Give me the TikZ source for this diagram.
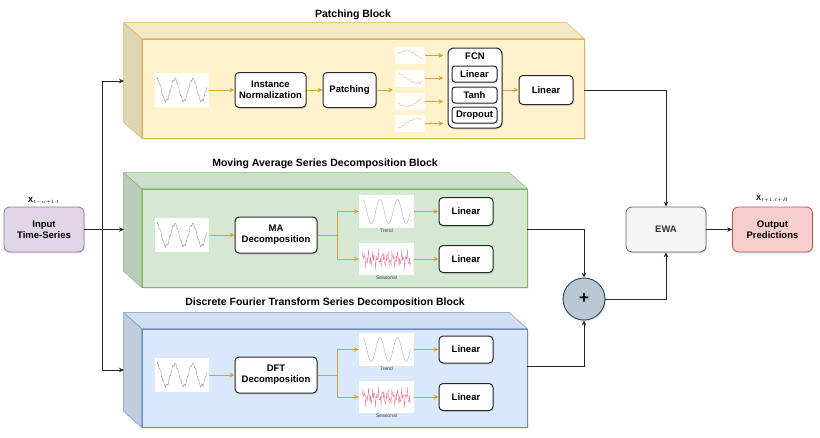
\documentclass[tikz,border=0pt]{standalone}
\usepackage{fontspec}
\setmainfont{Liberation Sans}
\usetikzlibrary{arrows.meta,positioning,calc,shadows}
\definecolor{patchFill}{HTML}{FFF2CC}
\definecolor{patchLine}{HTML}{D6B656}
\definecolor{maFill}{HTML}{D5E8D4}
\definecolor{maLine}{HTML}{82B366}
\definecolor{dftFill}{HTML}{DAE8FC}
\definecolor{dftLine}{HTML}{6C8EBF}
\definecolor{inFill}{HTML}{E1D5E7}
\definecolor{inLine}{HTML}{9673A6}
\definecolor{outFill}{HTML}{F8CECC}
\definecolor{outLine}{HTML}{B85450}
\definecolor{ewaFill}{HTML}{F5F5F5}
\definecolor{ewaLine}{HTML}{666666}
\definecolor{sumFill}{HTML}{BAC8D3}
\definecolor{sumLine}{HTML}{23445D}
\definecolor{flowGold}{HTML}{D8A23A}
\definecolor{seriesPurple}{HTML}{9C8AA8}
\definecolor{seasRed}{HTML}{E0607A}

% top and left faces of a block, drawn behind its front node
\newcommand{\blockfaces}[2]{%
  \filldraw[fill=#2Fill!96!black, draw=#2Line, line join=round]
    ($(#1.north west)+(-18,-16)$) -- ($(#1.north east)+(-18,-16)$)
    -- (#1.north east) -- (#1.north west) -- cycle;
  \filldraw[fill=#2Fill!88!black, draw=#2Line, line join=round]
    ($(#1.north west)+(-18,-16)$) -- (#1.north west)
    -- (#1.south west) -- ($(#1.south west)+(-18,-16)$) -- cycle;}

\begin{document}
\begin{tikzpicture}[x=1pt, y=-1pt,
    every node/.style={font=\fontsize{9.5}{11}\selectfont\bfseries},
    blockfront/.style={draw, line width=0.8pt, inner sep=0pt,
                       drop shadow={shadow xshift=1.5pt, shadow yshift=-1.5pt, opacity=0.15}},
    blocktitle/.style={font=\fontsize{10.5}{12}\selectfont\bfseries},
    proc/.style={draw=black!85, fill=white, rounded corners=4pt, line width=1pt,
                 align=center, inner sep=1pt,
                 drop shadow={shadow xshift=1pt, shadow yshift=-1.5pt, opacity=0.2}},
    small/.style={proc, rounded corners=3pt, minimum width=45pt, minimum height=16pt},
    thumb/.style={fill=white, inner sep=0pt, minimum width=54pt, minimum height=34pt},
    patchthumb/.style={fill=white, fill opacity=0.85, inner sep=0pt,
                       minimum width=30pt, minimum height=17pt},
    tag/.style={font=\fontsize{5}{6}\selectfont, text=black!75, inner sep=0.5pt},
    mathlbl/.style={font=\fontsize{7.5}{8}\selectfont, inner sep=1pt},
    term/.style={draw, rounded corners=6pt, minimum width=80pt, minimum height=45pt,
                 align=center, line width=0.8pt,
                 drop shadow={shadow xshift=1pt, shadow yshift=-1.5pt, opacity=0.2}},
    flow/.style={-{Stealth[length=5pt,width=4.5pt]}, flowGold, line width=1pt},
    conn/.style={-{Stealth[length=5pt,width=4.5pt]}, black!85, line width=0.9pt},
    series/.style={draw=seriesPurple, line width=0.35pt, line join=round},
  ]
  \useasboundingbox (0,0) rectangle (820,437);

  % Patching block
  \node[blockfront, draw=patchLine, fill=patchFill, minimum width=442pt, minimum height=99pt]
    (patchblk) at (363,88.5) {};
  \blockfaces{patchblk}{patch}
  \node[blocktitle] (patchttl) at (353,15) {Patching Block};

  \node[thumb] (patchser) at (182,90) {};
  \node[proc, minimum width=71pt, minimum height=35pt] (instnorm) at (270.5,90) {Instance\\Normalization};
  \node[proc, minimum width=53pt, minimum height=35pt] (patching) at (349.5,90) {Patching};
  \foreach \i/\y in {1/55.5, 2/78, 3/101.5, 4/123.5}
    \node[patchthumb] (patch\i) at (410,\y) {};
  \node[proc, minimum width=54pt, minimum height=80pt, rounded corners=6pt] (fcn) at (475,88) {};
  \node (fcnttl) at (475,56) {FCN};
  \node[small] (fcnlin) at (474.5,74) {Linear};
  \node[small] (fcntanh) at (474.5,95) {Tanh};
  \node[small] (fcndrop) at (474.5,115) {Dropout};
  \node[proc, minimum width=54pt, minimum height=29pt] (patchlin) at (546,90) {Linear};

  \draw[flow] (patchser) -- (instnorm);
  \draw[flow] (instnorm) -- (patching);
  \coordinate (patchfan) at (393,90);
  \draw[flow] (patching) -- (patchfan);
  \foreach \i in {1,...,4}
    \draw[flow] (patch\i.east) -- ($(patch\i.east -| fcn.west)+(-4,0)$);
  \draw[flow] (fcn.east |- patchlin) -- (patchlin);

  % Moving average block
  \node[blockfront, draw=maLine, fill=maFill, minimum width=385pt, minimum height=98pt]
    (mablk) at (334.5,238) {};
  \blockfaces{mablk}{ma}
  \node[blocktitle] (mattl) at (325,164) {Moving Average Series Decomposition Block};

  \node[thumb] (maser) at (182,235) {};
  \node[proc, minimum width=82pt, minimum height=36pt] (madec) at (276,235) {MA\\Decomposition};
  \node[thumb, minimum width=55pt, minimum height=33pt] (matrend) at (386.5,211.5) {};
  \node[tag, below=0pt of matrend] (matrendtag) {Trend};
  \node[thumb, minimum width=55pt, minimum height=32pt] (maseas) at (386.5,259) {};
  \node[tag, below=0pt of maseas] (maseastag) {Seasonal};
  \node[proc, minimum width=54pt, minimum height=28pt] (malin1) at (466,211.5) {Linear};
  \node[proc, minimum width=54pt, minimum height=27pt] (malin2) at (466,259) {Linear};

  \draw[flow] (maser) -- (madec);
  \draw[flow] (madec.east) -- ++(20,0) |- (matrend);
  \draw[flow] (madec.east) -- ++(20,0) |- (maseas);
  \draw[flow] (matrend) -- (malin1);
  \draw[flow] (maseas) -- (malin2);

  % DFT block
  \node[blockfront, draw=dftLine, fill=dftFill, minimum width=385pt, minimum height=98pt]
    (dftblk) at (334.5,378) {};
  \blockfaces{dftblk}{dft}
  \node[blocktitle] (dftttl) at (325,303) {Discrete Fourier Transform Series Decomposition Block};

  \node[thumb] (dftser) at (182,375) {};
  \node[proc, minimum width=82pt, minimum height=36pt] (dftdec) at (276,375) {DFT\\Decomposition};
  \node[thumb, minimum width=55pt, minimum height=33pt] (dfttrend) at (386.5,349.5) {};
  \node[tag, below=0pt of dfttrend] (dfttrendtag) {Trend};
  \node[thumb, minimum width=55pt, minimum height=32pt] (dftseas) at (386.5,397) {};
  \node[tag, below=0pt of dftseas] (dftseastag) {Seasonal};
  \node[proc, minimum width=54pt, minimum height=27pt] (dftlin1) at (466,349.5) {Linear};
  \node[proc, minimum width=54pt, minimum height=27pt] (dftlin2) at (466,397) {Linear};

  \draw[flow] (dftser) -- (dftdec);
  \draw[flow] (dftdec.east) -- ++(20,0) |- (dfttrend);
  \draw[flow] (dftdec.east) -- ++(20,0) |- (dftseas);
  \draw[flow] (dfttrend) -- (dftlin1);
  \draw[flow] (dftseas) -- (dftlin2);

  % Little series plots
  \foreach \s in {patchser, maser, dftser}
    \draw[series, shift={(\s.center)}] plot[domain=0:1, samples=160]
      ({-25+50*\x}, {-11*cos(1010*\x)-1.2*sin(6100*\x)-0.7*sin(14300*\x)});
  \foreach \s in {matrend, dfttrend}
    \draw[series, draw=seriesPurple!80, shift={(\s.center)}] plot[domain=0:1, samples=90]
      ({-24+48*\x}, {-12*cos(990*\x)});
  \foreach \s in {maseas, dftseas}
    \draw[series, draw=seasRed!85, line width=0.3pt, shift={(\s.center)}] plot[domain=0:1, samples=140]
      ({-24+48*\x}, {-4*sin(3600*\x)-4*sin(8900*\x+30)-2.5*sin(15500*\x)});
  \foreach \i/\p in {1/20, 2/110, 3/200, 4/290}
    \draw[series, draw=black!25, line width=0.3pt, shift={(patch\i.center)}] plot[domain=0:1, samples=30]
      ({-12+24*\x}, {-5*sin(200*\x+\p)-0.8*sin(2300*\x)});

  % Input and output side
  \node[term, fill=inFill, draw=inLine] (inp) at (44,229.5) {Input\\Time-Series};
  \node[mathlbl, above=1pt of inp] (inplbl) {$\mathbf{X}_{t-n+1:t}$};
  \node[term, fill=ewaFill, draw=ewaLine, text=black!80] (ewa) at (666,229.5) {EWA};
  \node[term, fill=outFill, draw=outLine] (outp) at (772.5,229.5) {Output\\Predictions};
  \node[mathlbl, above=3pt of outp] (outlbl) {$\hat{\mathbf{X}}_{t+1:t+H}$};
  \node[circle, draw=sumLine, fill=sumFill, minimum size=42pt, line width=0.9pt, inner sep=0pt,
        font=\fontsize{17}{17}\selectfont\bfseries,
        drop shadow={shadow xshift=1pt, shadow yshift=-1.5pt, opacity=0.2}] (plus) at (584,299) {+};

  \coordinate (patchin) at (124,81);
  \coordinate (main) at (124,229.5);
  \coordinate (dftin) at (124,370);
  \draw[conn] (inp.east) -- (main);
  \draw[conn] (inp.east) -- ++(18,0) |- (patchin);
  \draw[conn] (inp.east) -- ++(18,0) |- (dftin);

  \coordinate (patchout) at (584,90);
  \coordinate (maout) at (527,229);
  \coordinate (dftout) at (527,366);
  \draw[conn] (patchout) -| (ewa.north);
  \draw[conn] (maout) -| (plus.north);
  \draw[conn] (dftout) -| (plus.south);
  \draw[conn] (plus.east) -| (ewa.south);
  \draw[conn] (ewa) -- (outp);
\end{tikzpicture}
\end{document}
